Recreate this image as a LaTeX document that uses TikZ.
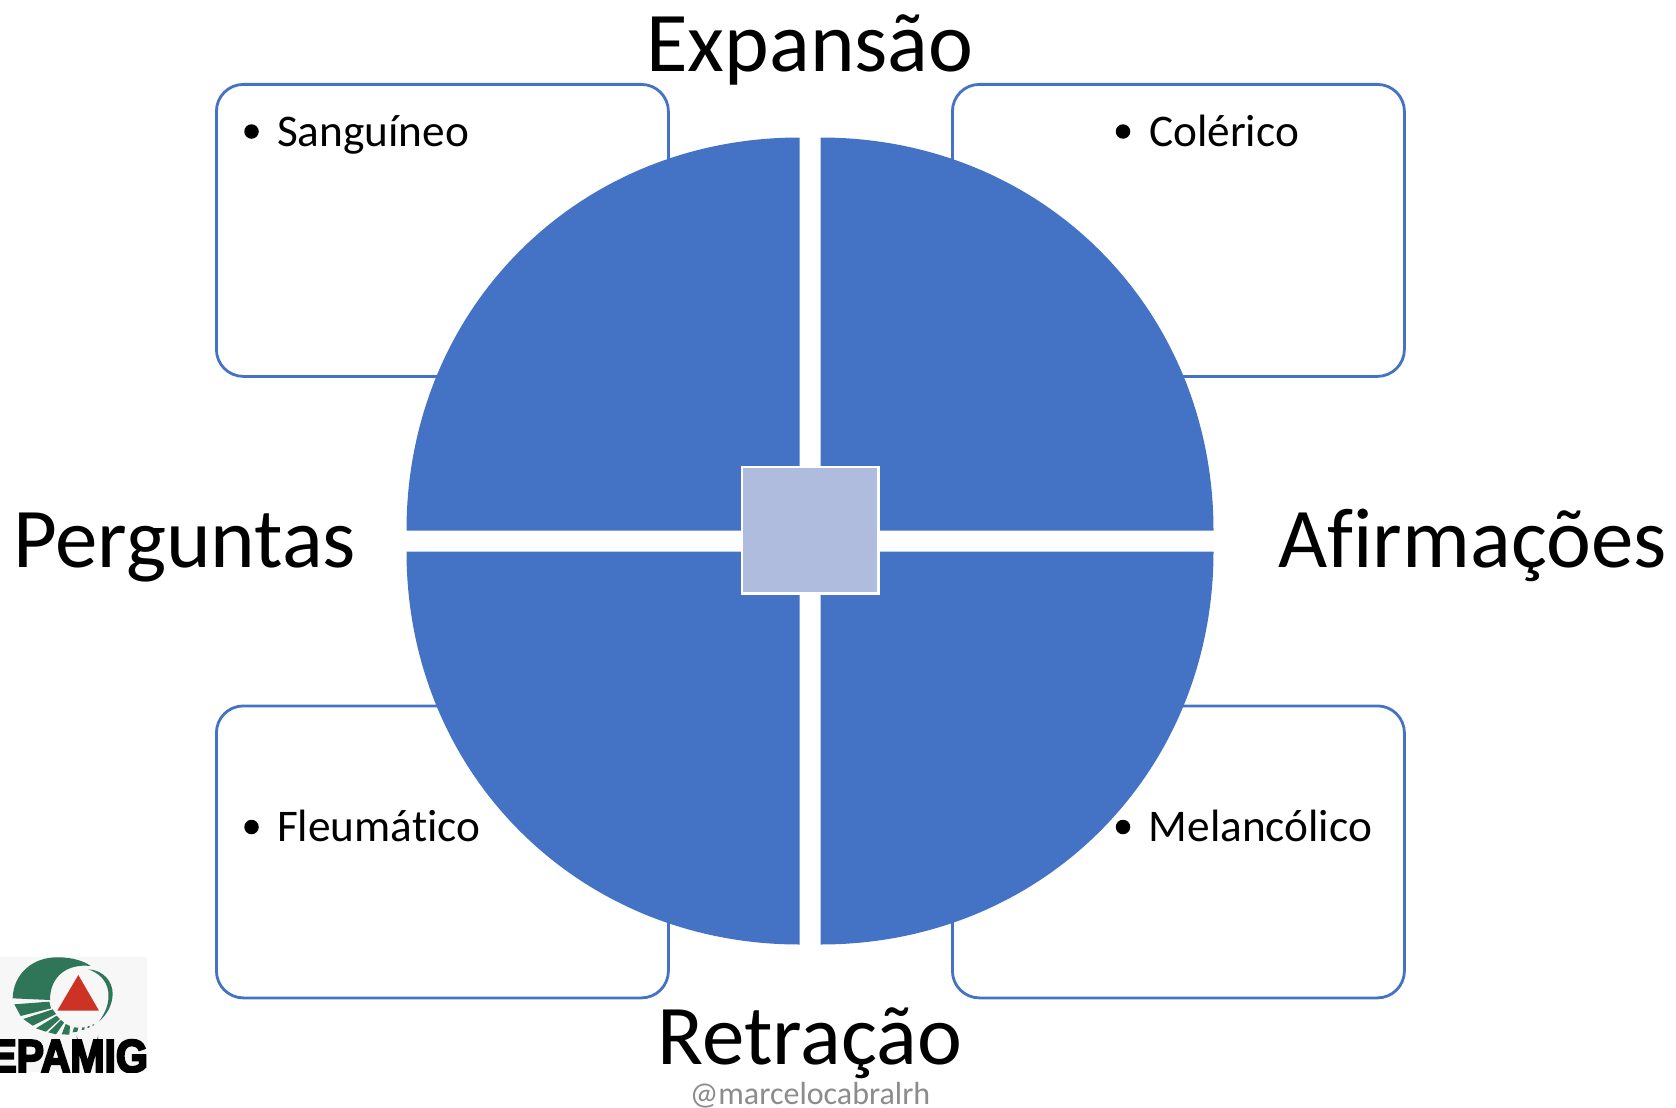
\documentclass[tikz,border=0pt]{standalone}
\usepackage{fontspec}
\setmainfont[RawFeature={-liga;-dlig;-clig}]{Carlito}
\newfontfamily\logofont[FakeBold=5]{Liberation Sans}
\definecolor{quadblue}{HTML}{4472C4}
\definecolor{centerblue}{HTML}{B0BCDE}
\definecolor{logogreen}{HTML}{2F7558}
\definecolor{logored}{HTML}{CC3325}
\definecolor{logobg}{HTML}{F7F7F7}
\definecolor{markgray}{HTML}{8C8C8C}
\tikzset{
  cardbox/.style={draw=quadblue,line width=2.8pt,fill=white,rounded corners=27pt,minimum width=452pt,minimum height=292pt,inner sep=0pt,anchor=north west},
  quad/.style={fill=quadblue,draw=none},
  axislabel/.style={font=\fontsize{85}{90}\selectfont,inner sep=0pt,anchor=base},
  itemlabel/.style={font=\fontsize{45.3}{48}\selectfont,inner sep=0pt,anchor=base west},
  bulletdot/.style={circle,fill=black,minimum size=14.5pt,inner sep=0pt},
  leaf/.style={fill=logogreen,draw=none}
}
\begin{document}
\begin{tikzpicture}[x=1pt,y=-1pt]
\path[use as bounding box,fill=white] (0,0) rectangle (1676,1108);
% cards
\node[cardbox] (boxUL) at (215,83) {};
\node[cardbox] (boxUR) at (951,83) {};
\node[cardbox] (boxLL) at (215,704.5) {};
\node[cardbox] (boxLR) at (951,704.5) {};
% quadrants
\fill[quad] (799.5,530.5) -- (799.5,137.5) .. controls (577.8,137.5) and (406.5,308.8) .. (406.5,530.5) -- cycle;
\fill[quad] (820.5,530.5) -- (820.5,137.5) .. controls (1042.2,137.5) and (1213.5,308.8) .. (1213.5,530.5) -- cycle;
\fill[quad] (799.5,551.5) -- (799.5,944.5) .. controls (577.8,944.5) and (406.5,773.2) .. (406.5,551.5) -- cycle;
\fill[quad] (820.5,551.5) -- (820.5,944.5) .. controls (1042.2,944.5) and (1213.5,773.2) .. (1213.5,551.5) -- cycle;
% centre square
\node[draw=white,line width=2.5pt,fill=centerblue,minimum width=136.5pt,minimum height=126.5pt,inner sep=0pt] (centre) at (810,530) {};
% axis labels
\node[axislabel] (top) at (810,72) {Expansão};
\node[axislabel] (bottom) at (810,1064) {Retração};
\node[axislabel,anchor=base west] (left) at (13,567.5) {Perguntas};
\node[axislabel,anchor=base east] (right) at (1667,567.5) {Afirmações};
% items
\node[bulletdot] (b1) at (251.5,131.5) {};
\node[itemlabel] (t1) at (277,146) {Sanguíneo};
\node[bulletdot] (b2) at (1123,131.5) {};
\node[itemlabel] (t2) at (1149,146) {Colérico};
\node[bulletdot] (b3) at (251.5,827) {};
\node[itemlabel] (t3) at (277,841) {Fleumático};
\node[bulletdot] (b4) at (1123,827) {};
\node[itemlabel] (t4) at (1148.5,841) {Melancólico};
% watermark
\node[font=\fontsize{32}{34}\selectfont,text=markgray,inner sep=0pt,anchor=base] (mark) at (810,1104) {@marcelocabralrh};
% logo
\fill[logobg] (0,957) rectangle (147,1072);
\begin{scope}
\clip (0,957) rectangle (147,1072);
\node[inner sep=0pt,anchor=base east,font=\logofont\bfseries\fontsize{46}{47}\selectfont] (logotext) at (148,1072) {\scalebox{0.89}[1]{EPAMIG}};
\end{scope}
\begin{scope}[shift={(0,940)},x=0.3333pt,y=-0.3333pt]
\fill[leaf] (38,175) .. controls (40,100) and (100,50) .. (175,52) .. controls (215,52) and (250,62) .. (272,78) .. controls (200,70) and (150,110) .. (150,180) -- cycle;
\fill[leaf] (265,88) .. controls (310,90) and (338,125) .. (338,160) .. controls (338,195) and (320,225) .. (298,243) .. controls (318,215) and (328,190) .. (325,155) .. controls (320,120) and (295,98) .. (265,88) -- cycle;
\fill[leaf] (43,193) -- (148,185) -- (153,205) -- (62,228) -- cycle;
\fill[leaf] (70,237) -- (158,208) -- (168,222) -- (98,257) -- cycle;
\fill[leaf] (108,265) -- (170,227) -- (180,237) -- (138,275) -- cycle;
\fill[leaf] (145,277) -- (183,240) -- (192,248) -- (168,283) -- cycle;
\fill[leaf] (185,283) -- (197,252) -- (210,258) -- (208,284) -- cycle;
\fill[leaf] (218,277) -- (222,262) -- (235,263) -- (232,275) -- cycle;
\fill[leaf] (245,270) -- (247,262) -- (254,262) -- (253,269) -- cycle;
\fill[leaf] (262,264) -- (264,258) -- (269,258) -- (268,263) -- cycle;
\fill[leaf] (276,257) -- (279,253) -- (283,253) -- (281,257) -- cycle;
\fill[logored] (235,105) -- (172,212) -- (297,212) -- cycle;
\end{scope}
\end{tikzpicture}
\end{document}
